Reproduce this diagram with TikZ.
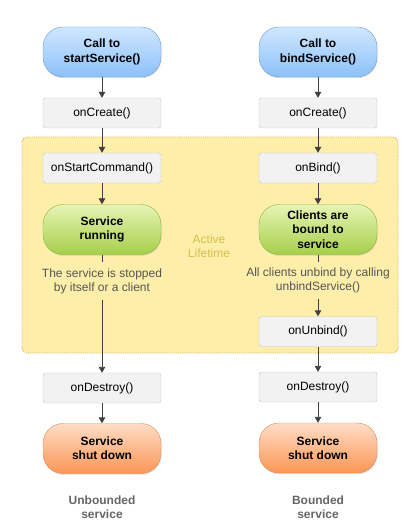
\documentclass[tikz,border=0pt]{standalone}
\usepackage{fontspec}
\setmainfont{Liberation Sans}
\usetikzlibrary{arrows.meta,shadows}
\definecolor{bluetop}{HTML}{CFE7FF}
\definecolor{bluebot}{HTML}{8CC1F9}
\definecolor{blueline}{HTML}{6E9EDC}
\definecolor{greentop}{HTML}{E6F4B4}
\definecolor{greenbot}{HTML}{A6CF4B}
\definecolor{greenline}{HTML}{8DB23E}
\definecolor{orangetop}{HTML}{FFDDC6}
\definecolor{orangebot}{HTML}{FB9656}
\definecolor{orangeline}{HTML}{E08A55}
\definecolor{boxfill}{HTML}{F2F2F2}
\definecolor{boxline}{HTML}{C4C4C4}
\definecolor{zonefill}{HTML}{FDEEAA}
\definecolor{zoneline}{HTML}{E2B45A}
\definecolor{zonetext}{HTML}{D3C04C}
\definecolor{arrowcol}{HTML}{404040}
\definecolor{subtext}{HTML}{555555}
\definecolor{footer}{HTML}{666666}
\tikzset{
  pill/.style={rounded corners=20pt, minimum width=118pt, minimum height=50pt,
    inner sep=0pt, align=center, font=\bfseries\fontsize{12}{14.3}\selectfont,
    drop shadow={opacity=0.25, shadow xshift=0.6pt, shadow yshift=-1.2pt}},
  bluepill/.style={pill, draw=blueline, top color=bluetop, bottom color=bluebot},
  greenpill/.style={pill, draw=greenline, top color=greentop, bottom color=greenbot},
  orangepill/.style={pill, draw=orangeline, top color=orangetop, bottom color=orangebot},
  cbbox/.style={draw=boxline, fill=boxfill, rounded corners=2.5pt, minimum width=118pt,
    minimum height=30pt, inner sep=0pt, font=\fontsize{12}{14.3}\selectfont},
  note/.style={align=center, text=subtext, inner xsep=0pt, inner ysep=6pt,
    font=\fontsize{12}{14}\selectfont},
  foot/.style={align=center, text=footer, font=\bfseries\fontsize{12}{14}\selectfont},
  conn/.style={draw=arrowcol, line width=0.9pt},
  arr/.style={conn, -{Triangle[length=6pt,width=6.5pt]}},
}
\begin{document}
\begin{tikzpicture}[x=1pt,y=-1pt]
\useasboundingbox (0,0) rectangle (415,529);
% active lifetime zone
\draw[fill=zonefill, draw=zoneline, densely dotted, line width=0.9pt, rounded corners=5pt]
  (22,137) rectangle (398,353);
\node[text=zonetext, align=center, font=\fontsize{12}{14}\selectfont] (active) at (209,246) {Active\\Lifetime};
% left column
\node[bluepill] (ls) at (102,52) {Call to\\startService()};
\node[cbbox] (lc) at (102,113) {onCreate()};
\node[cbbox] (lsc) at (102,168) {onStartCommand()};
\node[greenpill] (lr) at (102,229.5) {Service\\running};
\node[note] (lt) at (102,281) {The service is stopped\\by itself or a client};
\node[cbbox] (ld) at (102,388) {onDestroy()};
\node[orangepill] (lx) at (102,448.5) {Service\\shut down};
\node[foot] (lf) at (102,507) {Unbounded\\service};
% right column
\node[bluepill] (rs) at (318,52) {Call to\\bindService()};
\node[cbbox] (rc) at (318,113) {onCreate()};
\node[cbbox] (rb) at (318,168) {onBind()};
\node[greenpill] (rr) at (318,229.5) {Clients are\\bound to\\service};
\node[note] (rt) at (318,280.5) {All clients unbind by calling\\unbindService()};
\node[cbbox] (ru) at (318,331.5) {onUnbind()};
\node[cbbox] (rd) at (318,387) {onDestroy()};
\node[orangepill] (rx) at (318,448) {Service\\shut down};
\node[foot] (rf) at (318,507) {Bounded\\service};
% connectors left
\draw[arr] (ls) -- (lc);
\draw[arr] (lc) -- (lsc);
\draw[arr] (lsc) -- (lr);
\draw[conn] (lr) -- (lt);
\draw[arr] (lt) -- (ld);
\draw[arr] (ld) -- (lx);
% connectors right
\draw[arr] (rs) -- (rc);
\draw[arr] (rc) -- (rb);
\draw[arr] (rb) -- (rr);
\draw[conn] (rr) -- (rt);
\draw[arr] (rt) -- (ru);
\draw[arr] (ru) -- (rd);
\draw[arr] (rd) -- (rx);
\end{tikzpicture}
\end{document}
